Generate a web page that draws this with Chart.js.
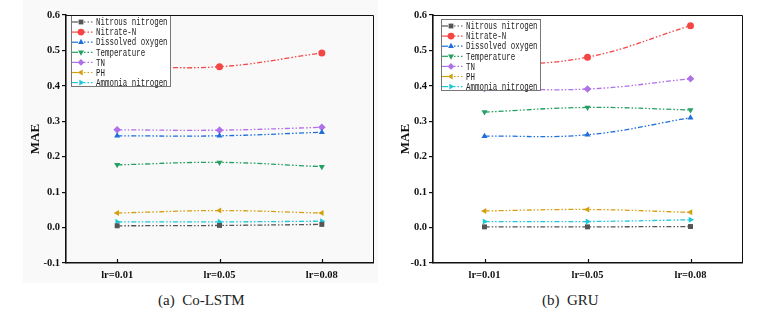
<!DOCTYPE html>
<html>
<head>
<meta charset="utf-8">
<script src="https://cdn.jsdelivr.net/npm/chart.js@4/dist/chart.umd.min.js"></script>
<style>
  body { margin: 0; background: #fff; width: 765px; height: 321px; position: relative; overflow: hidden; }
  .bg { position: absolute; left: 23px; top: 0; width: 355px; height: 283px; background: #f9f9f9; }
  .box { position: absolute; top: 0; height: 290px; }
  .cap { position: absolute; top: 292px; font: 15px "Liberation Serif", serif; color: #222; white-space: pre; }
</style>
</head>
<body>
<div class="bg"></div>
<div class="box" style="left:0;width:380px"><canvas id="c1"></canvas></div>
<div class="box" style="left:380px;width:385px"><canvas id="c2"></canvas></div>
<div class="cap" style="left:158px">(a)  Co-LSTM</div>
<div class="cap" style="left:542px">(b)  GRU</div>
<script>
const labels = ['lr=0.01', 'lr=0.05', 'lr=0.08'];
const names = ['Nitrous nitrogen', 'Nitrate-N', 'Dissolved oxygen', 'Temperature', 'TN', 'PH', 'Ammonia nitrogen'];

// Co-LSTM
const lstmNitrous = [0.005, 0.006, 0.009];
const lstmNitrate = [0.456, 0.454, 0.493];
const lstmDO = [0.259, 0.259, 0.269];
const lstmTemp = [0.177, 0.184, 0.172];
const lstmTN = [0.276, 0.275, 0.283];
const lstmPH = [0.041, 0.048, 0.041];
const lstmAmmonia = [0.016, 0.016, 0.018];

// GRU
const gruNitrous = [0.002, 0.002, 0.003];
const gruNitrate = [0.455, 0.481, 0.570];
const gruDO = [0.258, 0.262, 0.310];
const gruTemp = [0.326, 0.339, 0.332];
const gruTN = [0.393, 0.391, 0.420];
const gruPH = [0.047, 0.051, 0.043];
const gruAmmonia = [0.017, 0.017, 0.022];

const colors = ['#555555', '#f54545', '#1e6fdc', '#24a060', '#b070e8', '#d4a010', '#1ec8d8'];
const styles = ['rect', 'circle', 'triangle', 'triangle', 'rectRot', 'triangle', 'triangle'];
const rots = [0, 0, 0, 180, 0, 270, 90];
const dash = [5, 2, 1.5, 2, 1.5, 2];
const serif = '"Liberation Serif", "Times New Roman", serif';

function makeSets(arr) {
  return arr.map((d, i) => ({
    label: names[i],
    data: d,
    borderColor: colors[i],
    backgroundColor: colors[i],
    borderWidth: 1.3,
    borderDash: dash,
    tension: 0.4,
    pointStyle: styles[i],
    pointRotation: rots[i],
    pointRadius: styles[i] == 'rectRot' ? 3.8 : 3.5,
    pointBorderWidth: 0
  }));
}

// legend drawn inside the plot, over the lines
const boxLegend = {
  id: 'boxLegend',
  afterDatasetsDraw(chart, args, opts) {
    const ctx = chart.ctx;
    const a = chart.chartArea;
    const x = a.left + opts.dx, y = a.top + opts.dy;
    const w = 99, h = 71;
    ctx.save();
    ctx.fillStyle = '#fff';
    ctx.fillRect(x, y, w, h);
    ctx.strokeStyle = '#777';
    ctx.lineWidth = 1;
    ctx.strokeRect(x + 0.5, y + 0.5, w, h);
    chart.data.datasets.forEach((ds, i) => {
      const yy = y + 7 + i * 10.1;
      ctx.strokeStyle = ds.borderColor;
      ctx.lineWidth = 1.2;
      ctx.setLineDash([]);
      ctx.beginPath(); ctx.moveTo(x + 1, yy); ctx.lineTo(x + 7, yy); ctx.stroke();
      ctx.setLineDash([1.5, 2]);
      ctx.beginPath(); ctx.moveTo(x + 13, yy); ctx.lineTo(x + 23, yy); ctx.stroke();
      ctx.setLineDash([]);
      ctx.fillStyle = ds.backgroundColor;
      Chart.helpers.drawPoint(ctx, { pointStyle: ds.pointStyle, rotation: ds.pointRotation, radius: 3.4, borderWidth: 0 }, x + 10, yy);
      ctx.fillStyle = '#222';
      ctx.font = '10.5px "Liberation Mono", monospace';
      ctx.textBaseline = 'middle';
      ctx.save();
      ctx.translate(x + 25, yy);
      ctx.scale(0.71, 1);
      ctx.fillText(ds.label, 0, 0.5);
      ctx.restore();
    });
    ctx.restore();
  }
};

// frame on top/right and inward x ticks
const frame = {
  id: 'frame',
  afterDraw(chart) {
    const ctx = chart.ctx, a = chart.chartArea, xs = chart.scales.x;
    ctx.save();
    ctx.strokeStyle = '#111';
    ctx.lineWidth = 1;
    ctx.beginPath();
    ctx.moveTo(a.left, a.top + 0.5); ctx.lineTo(a.right + 0.5, a.top + 0.5); ctx.lineTo(a.right + 0.5, a.bottom);
    ctx.stroke();
    ctx.lineWidth = 1.2;
    labels.forEach((l, i) => {
      const px = Math.round(xs.getPixelForValue(i)) + 0.5;
      ctx.beginPath(); ctx.moveTo(px, a.bottom); ctx.lineTo(px, a.bottom - 4); ctx.stroke();
    });
    ctx.restore();
  }
};

function makeChart(id, sets, yWidth, rightPad, titlePad, leg) {
  return new Chart(document.getElementById(id), {
    type: 'line',
    data: { labels: labels, datasets: makeSets(sets) },
    options: {
      responsive: true,
      maintainAspectRatio: false,
      animation: false,
      layout: { padding: { top: 15, right: rightPad, left: 0, bottom: 0 } },
      plugins: { legend: { display: false }, tooltip: { enabled: false }, boxLegend: leg },
      scales: {
        x: {
          offset: true,
          grid: { display: false, drawTicks: false },
          border: { color: '#111', width: 1.6 },
          ticks: { color: '#111', padding: 6, font: { family: serif, weight: 'bold', size: 10.5 } },
          afterFit: s => { s.height = 27; }
        },
        y: {
          min: -0.1, max: 0.6,
          grid: { drawOnChartArea: false, drawTicks: true, tickLength: 4, color: '#111', lineWidth: 1.2 },
          border: { color: '#111', width: 1.6 },
          ticks: { stepSize: 0.1, color: '#111', padding: 2, font: { family: serif, weight: 'bold', size: 10.5 },
                   callback: v => (Math.abs(v) < 1e-9 ? 0 : v).toFixed(1) },
          title: { display: true, text: 'MAE', color: '#111', padding: { top: titlePad, bottom: 0 },
                   font: { family: serif, weight: 'bold', size: 13 } },
          afterFit: s => { s.width = yWidth; }
        }
      }
    },
    plugins: [boxLegend, frame]
  });
}

makeChart('c1', [lstmNitrous, lstmNitrate, lstmDO, lstmTemp, lstmTN, lstmPH, lstmAmmonia], 66, 7, 28, { dx: 5, dy: 0 });
makeChart('c2', [gruNitrous, gruNitrate, gruDO, gruTemp, gruTN, gruPH, gruAmmonia], 53, 23, 18, { dx: 8, dy: 4 });
</script>
</body>
</html>
